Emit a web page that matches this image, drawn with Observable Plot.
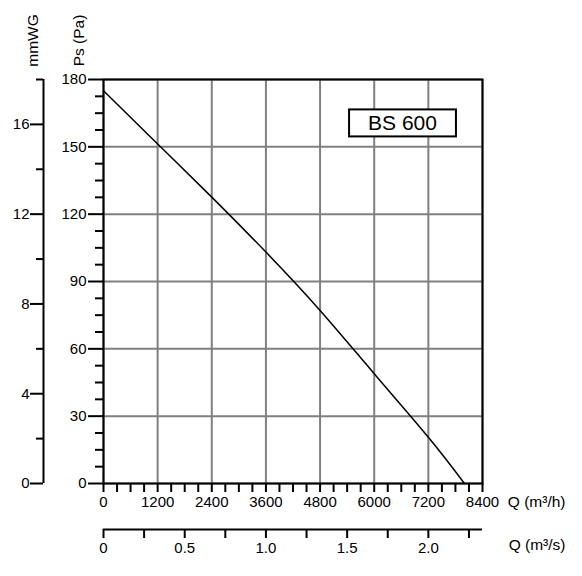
<!DOCTYPE html>
<html>
<head>
<meta charset="utf-8">
<script src="https://cdn.jsdelivr.net/npm/d3@7"></script>
<script src="https://cdn.jsdelivr.net/npm/@observablehq/plot@0.6"></script>
<style>
  body { margin: 0; background: white; }
</style>
</head>
<body>
<div id="chart"></div>
<script>
// fan curve BS 600
const flow = [0, 1200, 2400, 3600, 4800, 6000, 7200, 8000]; // m³/h
const pressure = [175, 151.3, 127.6, 103.1, 77.1, 48.9, 20.6, 0]; // Pa

const qTicks = [0, 1200, 2400, 3600, 4800, 6000, 7200, 8400];
const qMinor = [300, 600, 900, 1500, 1800, 2100, 2700, 3000, 3300, 3900, 4200, 4500,
  5100, 5400, 5700, 6300, 6600, 6900, 7500, 7800, 8100];
const paTicks = [0, 30, 60, 90, 120, 150, 180];
const paMinor = [7.5, 15, 22.5, 37.5, 45, 52.5, 67.5, 75, 82.5, 97.5, 105, 112.5,
  127.5, 135, 142.5, 157.5, 165, 172.5];
const mmwgTicks = [0, 4, 8, 12, 16];
const mmwgMinor = [2, 6, 10, 14, 18];
const m3sTicks = [0, 0.5, 1.0, 1.5, 2.0];
const m3sMinor = [0.25, 0.75, 1.25, 1.75, 2.25];

const data = flow.map((q, i) => ({q, ps: pressure[i]}))
const font = "Liberation Sans, Arial, sans-serif"
const blank = () => ""

let chart = Plot.plot({
  width: 582,
  height: 576,
  marginLeft: 103,
  marginRight: 100,
  marginTop: 79,
  marginBottom: 93,
  style: {fontFamily: font, fontSize: "15px", background: "white", color: "black"},
  x: {domain: [0, 8400], axis: null},
  y: {domain: [0, 180], axis: null},
  marks: [
    // grid
    Plot.ruleX(qTicks, {stroke: "#808080", strokeWidth: 2}),
    Plot.ruleY(paTicks, {stroke: "#808080", strokeWidth: 2}),
    // Pa axis
    Plot.axisY(paTicks, {anchor: "left", tickSize: 15, tickPadding: 2, strokeWidth: 2, fontSize: 15, label: null}),
    Plot.axisY(paMinor, {anchor: "left", tickSize: 8, tickFormat: blank, strokeWidth: 2, label: null}),
    // m³/h axis
    Plot.axisX(qTicks, {anchor: "bottom", tickSize: 9, tickPadding: 4, tickFormat: d => String(d),
      strokeWidth: 2, fontSize: 15, label: null}),
    Plot.axisX(qMinor, {anchor: "bottom", tickSize: 9, tickFormat: blank, strokeWidth: 2, label: null}),
    // mmWG axis, 1 mmWG drawn as 10 Pa
    Plot.ruleX([0], {y1: 0, y2: 180, dx: -60, strokeWidth: 2}),
    Plot.axisY(mmwgTicks.map(d => d * 10), {anchor: "left", dx: -60, tickSize: 13, tickPadding: 1,
      tickFormat: d => String(d / 10), strokeWidth: 2, fontSize: 15, label: null}),
    Plot.axisY(mmwgMinor.map(d => d * 10), {anchor: "left", dx: -60, tickSize: 7, tickFormat: blank,
      strokeWidth: 2, label: null}),
    // m³/s axis
    Plot.ruleY([0], {x1: 0, x2: 8400, dy: 46, strokeWidth: 2}),
    Plot.axisX(m3sTicks.map(d => d * 3600), {anchor: "bottom", dy: 46, tickSize: 9, tickPadding: 4,
      tickFormat: d => d === 0 ? "0" : (d / 3600).toFixed(1), strokeWidth: 2, fontSize: 15, label: null}),
    Plot.axisX(m3sMinor.map(d => d * 3600), {anchor: "bottom", dy: 46, tickSize: 9, tickFormat: blank,
      strokeWidth: 2, label: null}),
    Plot.frame({stroke: "black", strokeWidth: 2}),
    // curve
    Plot.line(data, {x: "q", y: "ps", stroke: "black", strokeWidth: 1.5, curve: "natural"}),
    // titles
    Plot.text(["Ps (Pa)"], {frameAnchor: "top-left", rotate: -90, dx: -31, dy: -39, fontSize: 15.5, textAnchor: "middle"}),
    Plot.text(["mmWG"], {frameAnchor: "top-left", rotate: -90, dx: -77, dy: -39, fontSize: 15.5, textAnchor: "middle"}),
    Plot.text(["Q (m³/h)"], {frameAnchor: "bottom-right", dx: 83, dy: 23, fontSize: 15.5, textAnchor: "end"}),
    Plot.text(["Q (m³/s)"], {frameAnchor: "bottom-right", dx: 83, dy: 66, fontSize: 15.5, textAnchor: "end"}),
    Plot.text(["BS 600"], {frameAnchor: "top-right", dx: -80, dy: 36, fontSize: 21, textAnchor: "middle"})
  ]
});

d3.select('#chart').append(() => chart)

// box round the model name
d3.select(chart).selectAll("text").each(function() {
  if (this.textContent !== "BS 600") return
  let b = this.getBBox()
  d3.select(this.parentNode).insert("rect", () => this)
    .attr("transform", this.getAttribute("transform"))
    .attr("x", b.x - 19).attr("y", b.y - 2)
    .attr("width", b.width + 38).attr("height", b.height + 4)
    .attr("fill", "white").attr("stroke", "black").attr("stroke-width", 2)
})
</script>
</body>
</html>
